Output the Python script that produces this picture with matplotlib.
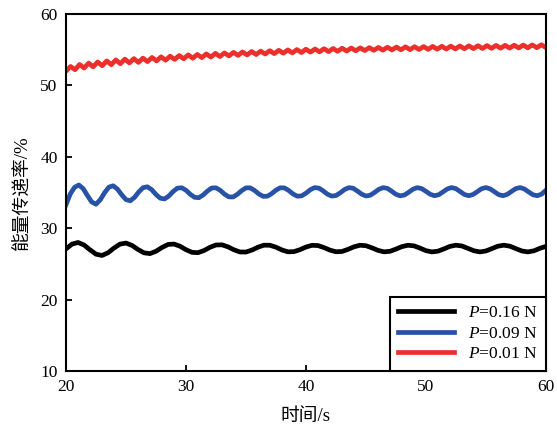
import numpy as np
import matplotlib
matplotlib.use("Agg")
import matplotlib.pyplot as plt

plt.rcParams['font.family'] = ['Liberation Serif', 'Noto Sans CJK SC', 'DejaVu Sans']
plt.rcParams['mathtext.fontset'] = 'custom'
plt.rcParams['mathtext.rm'] = 'Liberation Serif'
plt.rcParams['mathtext.it'] = 'Liberation Serif:italic'

# ---- data ----
time_016 = np.linspace(20, 60, 81)
eff_016 = [27.10, 27.77, 28.00, 27.65, 26.97, 26.36, 26.18, 26.56, 27.22, 27.77,
           27.92, 27.59, 27.02, 26.55, 26.44, 26.77, 27.30, 27.72, 27.78, 27.48,
           26.99, 26.62, 26.57, 26.87, 27.32, 27.65, 27.67, 27.39, 26.97, 26.67,
           26.66, 26.94, 27.34, 27.62, 27.61, 27.34, 26.95, 26.69, 26.72, 26.99,
           27.36, 27.60, 27.57, 27.29, 26.93, 26.70, 26.74, 27.03, 27.39, 27.61,
           27.55, 27.25, 26.90, 26.69, 26.76, 27.07, 27.42, 27.61, 27.53, 27.22,
           26.86, 26.68, 26.78, 27.10, 27.45, 27.62, 27.51, 27.18, 26.84, 26.68,
           26.81, 27.14, 27.48, 27.62, 27.48, 27.14, 26.81, 26.68, 26.83, 27.18,
           27.45]

time_009 = np.linspace(20, 60, 113)
eff_009 = [33.30, 34.80, 35.73, 36.05, 35.55, 34.58, 33.67, 33.36, 33.98, 34.96,
           35.75, 35.94, 35.48, 34.68, 34.00, 33.84, 34.32, 35.09, 35.68, 35.80,
           35.40, 34.72, 34.20, 34.10, 34.51, 35.14, 35.61, 35.67, 35.32, 34.75,
           34.33, 34.27, 34.65, 35.20, 35.63, 35.66, 35.30, 34.77, 34.39, 34.37,
           34.75, 35.26, 35.65, 35.65, 35.29, 34.80, 34.46, 34.48, 34.84, 35.33,
           35.66, 35.64, 35.27, 34.79, 34.48, 34.53, 34.90, 35.38, 35.68, 35.62,
           35.24, 34.77, 34.50, 34.57, 34.95, 35.41, 35.68, 35.60, 35.21, 34.77,
           34.51, 34.61, 35.00, 35.44, 35.68, 35.58, 35.19, 34.75, 34.53, 34.65,
           35.04, 35.47, 35.68, 35.55, 35.17, 34.75, 34.55, 34.69, 35.09, 35.50,
           35.69, 35.54, 35.13, 34.72, 34.55, 34.72, 35.12, 35.53, 35.69, 35.51,
           35.10, 34.70, 34.55, 34.74, 35.16, 35.55, 35.69, 35.49, 35.07, 34.68,
           34.55, 34.77, 35.30]

time_001 = np.linspace(20, 60, 107)
eff_001 = [52.00, 52.65, 52.20, 52.93, 52.43, 53.12, 52.60, 53.28, 52.75, 53.43,
           52.90, 53.57, 53.04, 53.68, 53.15, 53.75, 53.22, 53.82, 53.33, 53.91,
           53.43, 54.00, 53.53, 54.09, 53.64, 54.18, 53.73, 54.27, 53.81, 54.33,
           53.89, 54.41, 53.97, 54.49, 54.04, 54.55, 54.13, 54.63, 54.20, 54.69,
           54.26, 54.75, 54.32, 54.80, 54.39, 54.86, 54.45, 54.92, 54.51, 54.97,
           54.55, 55.02, 54.60, 55.07, 54.66, 55.10, 54.70, 55.14, 54.73, 55.17,
           54.77, 55.21, 54.81, 55.24, 54.85, 55.26, 54.88, 55.29, 54.91, 55.32,
           54.93, 55.35, 54.96, 55.37, 54.99, 55.40, 55.01, 55.42, 55.03, 55.44,
           55.05, 55.46, 55.07, 55.48, 55.09, 55.50, 55.11, 55.52, 55.13, 55.54,
           55.15, 55.56, 55.17, 55.58, 55.19, 55.60, 55.21, 55.61, 55.22, 55.63,
           55.24, 55.65, 55.26, 55.67, 55.28, 55.69, 55.30]

labels = ['$P$=0.16 N', '$P$=0.09 N', '$P$=0.01 N']
x_ticks = [20, 30, 40, 50, 60]
y_ticks = [10, 20, 30, 40, 50, 60]

# ---- figure ----
fig = plt.figure(figsize=(5.57, 4.32), dpi=100)
ax = fig.add_axes([0.1185, 0.1412, 0.8615, 0.8264])

ax.plot(time_016, eff_016, color='#000000', lw=3.4, label=labels[0], solid_joinstyle='round')
ax.plot(time_009, eff_009, color='#2852a6', lw=3.4, label=labels[1], solid_joinstyle='round')
ax.plot(time_001, eff_001, color='#ec2f2b', lw=3.4, label=labels[2], solid_joinstyle='round')

ax.set_xlim(20, 60)
ax.set_ylim(10, 60)
ax.set_xticks(x_ticks)
ax.set_yticks(y_ticks)
ax.tick_params(direction='in', length=4, width=1.3, labelsize=12.5, pad=6,
               top=False, right=False)
for s in ax.spines.values():
    s.set_linewidth(1.5)

ax.set_xlabel('时间/s', fontsize=13.5, labelpad=9)
ax.set_ylabel('能量传递率/%', fontsize=13.5, labelpad=6)

leg = ax.legend(loc='lower right', borderaxespad=0, fancybox=False,
                edgecolor='black', fontsize=12.5, handlelength=3.2,
                framealpha=1, borderpad=0.5, labelspacing=0.25)
leg.get_frame().set_linewidth(1.5)

fig.savefig('out.png', dpi=100)
